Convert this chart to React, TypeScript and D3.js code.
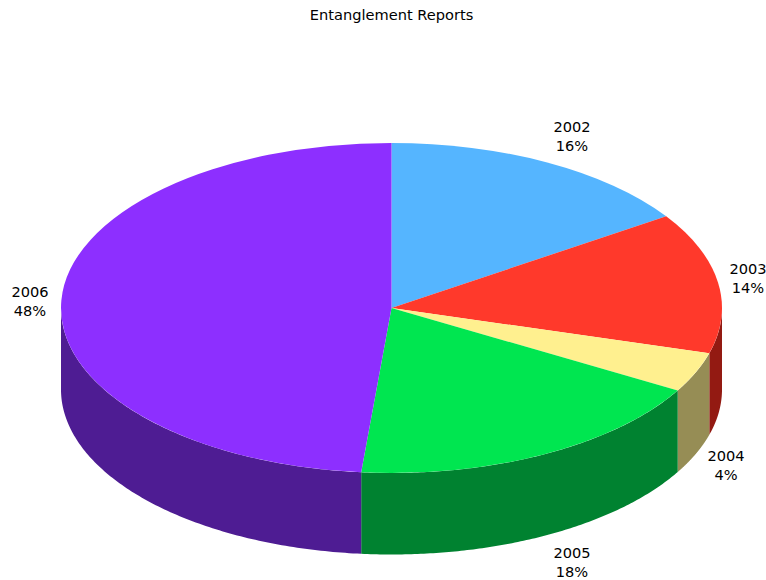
import React from "react";
import * as d3 from "d3";

const years = ["2002", "2003", "2004", "2005", "2006"];
const shares = [15.6, 13.8, 3.9, 18.11, 48.49];
const topColors = ["#55b5ff", "#ff392b", "#fff08f", "#00e650", "#8d2fff"];
const wallColors = ["#2f6a94", "#931a12", "#968d55", "#008230", "#4e1c93"];
const labelAnchors: [number, number][] = [
  [572, 127],
  [748, 269],
  [726, 456],
  [572, 553],
  [30, 292],
];

const width = 766;
const height = 580;
const cx = 391.5;
const cy = 308;
const rx = 330.5;
const ry = 165;
const depth = 81.5;

// Screen position of a pie angle (radians, clockwise from 12 o'clock) on the flattened ellipse.
const project = (angle: number, drop = 0): [number, number] => [
  cx + rx * Math.sin(angle),
  cy - ry * Math.cos(angle) + drop,
];

const pie = d3.pie<number>().sort(null).startAngle(0).endAngle(2 * Math.PI);
const arc = d3.arc<d3.PieArcDatum<number>>().innerRadius(0).outerRadius(rx);
const line = d3.line();

// Outline of the cylinder wall under one slice, limited to the half facing the viewer.
function wallPath(start: number, end: number): string | null {
  const a = Math.max(start, Math.PI / 2);
  const b = Math.min(end, (3 * Math.PI) / 2);
  if (b <= a) return null;
  const angles = d3.range(0, 121).map((i) => a + ((b - a) * i) / 120);
  const upper = angles.map((t) => project(t));
  const lower = angles.map((t) => project(t, depth)).reverse();
  return line([...upper, ...lower]) + "Z";
}

export default function App() {
  const slices = pie(shares);
  return (
    <svg
      width={width}
      height={height}
      viewBox={`0 0 ${width} ${height}`}
      style={{ position: "absolute", left: 0, top: 0, background: "#fff" }}
      fontFamily="'DejaVu Sans', sans-serif"
    >
      <text x={391.5} y={20} textAnchor="middle" fontSize={14.6} fill="#000">
        Entanglement Reports
      </text>
      <g>
        {slices.map((s, i) => {
          const d = wallPath(s.startAngle, s.endAngle);
          return d ? <path key={years[i]} d={d} fill={wallColors[i]} /> : null;
        })}
      </g>
      <g transform={`translate(${cx},${cy}) scale(1,${ry / rx})`}>
        {slices.map((s, i) => (
          <path key={years[i]} d={arc(s) ?? ""} fill={topColors[i]} />
        ))}
      </g>
      <g fontSize={14.6} fill="#000" textAnchor="middle">
        {slices.map((s, i) => (
          <text key={years[i]} x={labelAnchors[i][0]} y={labelAnchors[i][1] + 5}>
            <tspan x={labelAnchors[i][0]}>{years[i]}</tspan>
            <tspan x={labelAnchors[i][0]} dy={18.5}>
              {Math.round(shares[i])}%
            </tspan>
          </text>
        ))}
      </g>
    </svg>
  );
}
